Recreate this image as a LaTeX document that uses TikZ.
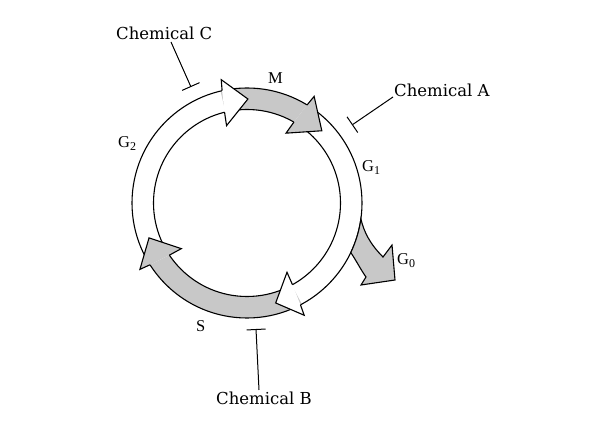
\documentclass[tikz,border=0pt]{standalone}
\usepackage{fontspec}
\setmainfont{Liberation Serif}
\newfontfamily\chemfont{DejaVu Serif}
\usetikzlibrary{arrows.meta}
\definecolor{grayc}{RGB}{200,200,200}
\newcommand\lsub[1]{\raisebox{-2.5pt}{\fontsize{12pt}{12pt}\selectfont #1}}
\tikzset{
  lab/.style={inner sep=0pt, font=\fontsize{16.5pt}{18pt}\selectfont},
  chem/.style={inner sep=0pt, font=\chemfont\fontsize{16.5pt}{18pt}\selectfont},
  ring/.style={line width=1.1pt, draw=black},
  inh/.style={line width=1pt, -{Bar[width=19pt, line width=1pt]}}
}
\begin{document}
\begin{tikzpicture}[x=1pt,y=1pt]
\useasboundingbox (0,0) rectangle (589,425);
\begin{scope}[shift={(247,222)}]
  % gray band fills
  \fill[grayc] (103.3:115) arc[start angle=103.3, end angle=58.5, radius=115]
     -- (59.9:93.5) arc[start angle=59.9, end angle=103.3, radius=93.5] -- cycle;
  \fill[grayc] (-61.5:115) arc[start angle=-61.5, end angle=-147.5, radius=115]
     -- (-146.1:93.5) arc[start angle=-146.1, end angle=-61.5, radius=93.5] -- cycle;
  % ring outlines
  \draw[ring] (0,0) circle[radius=115];
  \draw[ring] (0,0) circle[radius=93.5];
  % G0 arrow
  \filldraw[ring, fill=grayc, line join=miter]
     (-8:115) .. controls (117,-29) and (123,-41) .. (136,-54)
     -- (145,-42) -- (148,-77) -- (114,-82) -- (119,-74)
     .. controls (114,-67) and (110,-59) .. (-25.5:115)
     arc[start angle=-25.5, end angle=-8, radius=115] -- cycle;
  % arrowheads
  \filldraw[ring, fill=grayc] (58.5:115) -- (57.8:126) -- (44:104) -- (60.8:80) -- (59.9:93.5);
  \filldraw[ring, fill=white] (-62.3:115) -- (-63:126) -- (-74:104) -- (-60:80) -- (-60.9:93.5);
  \filldraw[ring, fill=grayc] (-147.5:115) -- (-148.2:126) -- (-160.4:104) -- (-145.2:80) -- (-146.1:93.5);
  \filldraw[ring, fill=white] (102.5:115) -- (101.8:126) -- (89.5:104) -- (104.8:80) -- (103.9:93.5);
\end{scope}
% labels
\node[lab, anchor=base west] (M) at (268,341) {M};
\node[lab, anchor=base west] (G2) at (118,277) {G\lsub{2}};
\node[lab, anchor=base west] (G1) at (362,253) {G\lsub{1}};
\node[lab, anchor=base west] (G0) at (397,160) {G\lsub{0}};
\node[lab, anchor=base west] (S) at (196,93) {S};
\node[chem, anchor=base west] (chemC) at (116,385) {Chemical C};
\node[chem, anchor=base west] (chemA) at (394,328) {Chemical A};
\node[chem, anchor=base west] (chemB) at (216,20) {Chemical B};
% inhibitors
\coordinate (cC) at (191,338);
\coordinate (cA) at (352,300);
\coordinate (cB) at (256,96);
\draw[inh] ([shift={(55,-2)}]chemC.base west) -- (cC);
\draw[inh] ([shift={(-1,0)}]chemA.base west) -- (cA);
\draw[inh] ([shift={(43,15)}]chemB.base west) -- (cB);
\end{tikzpicture}
\end{document}
